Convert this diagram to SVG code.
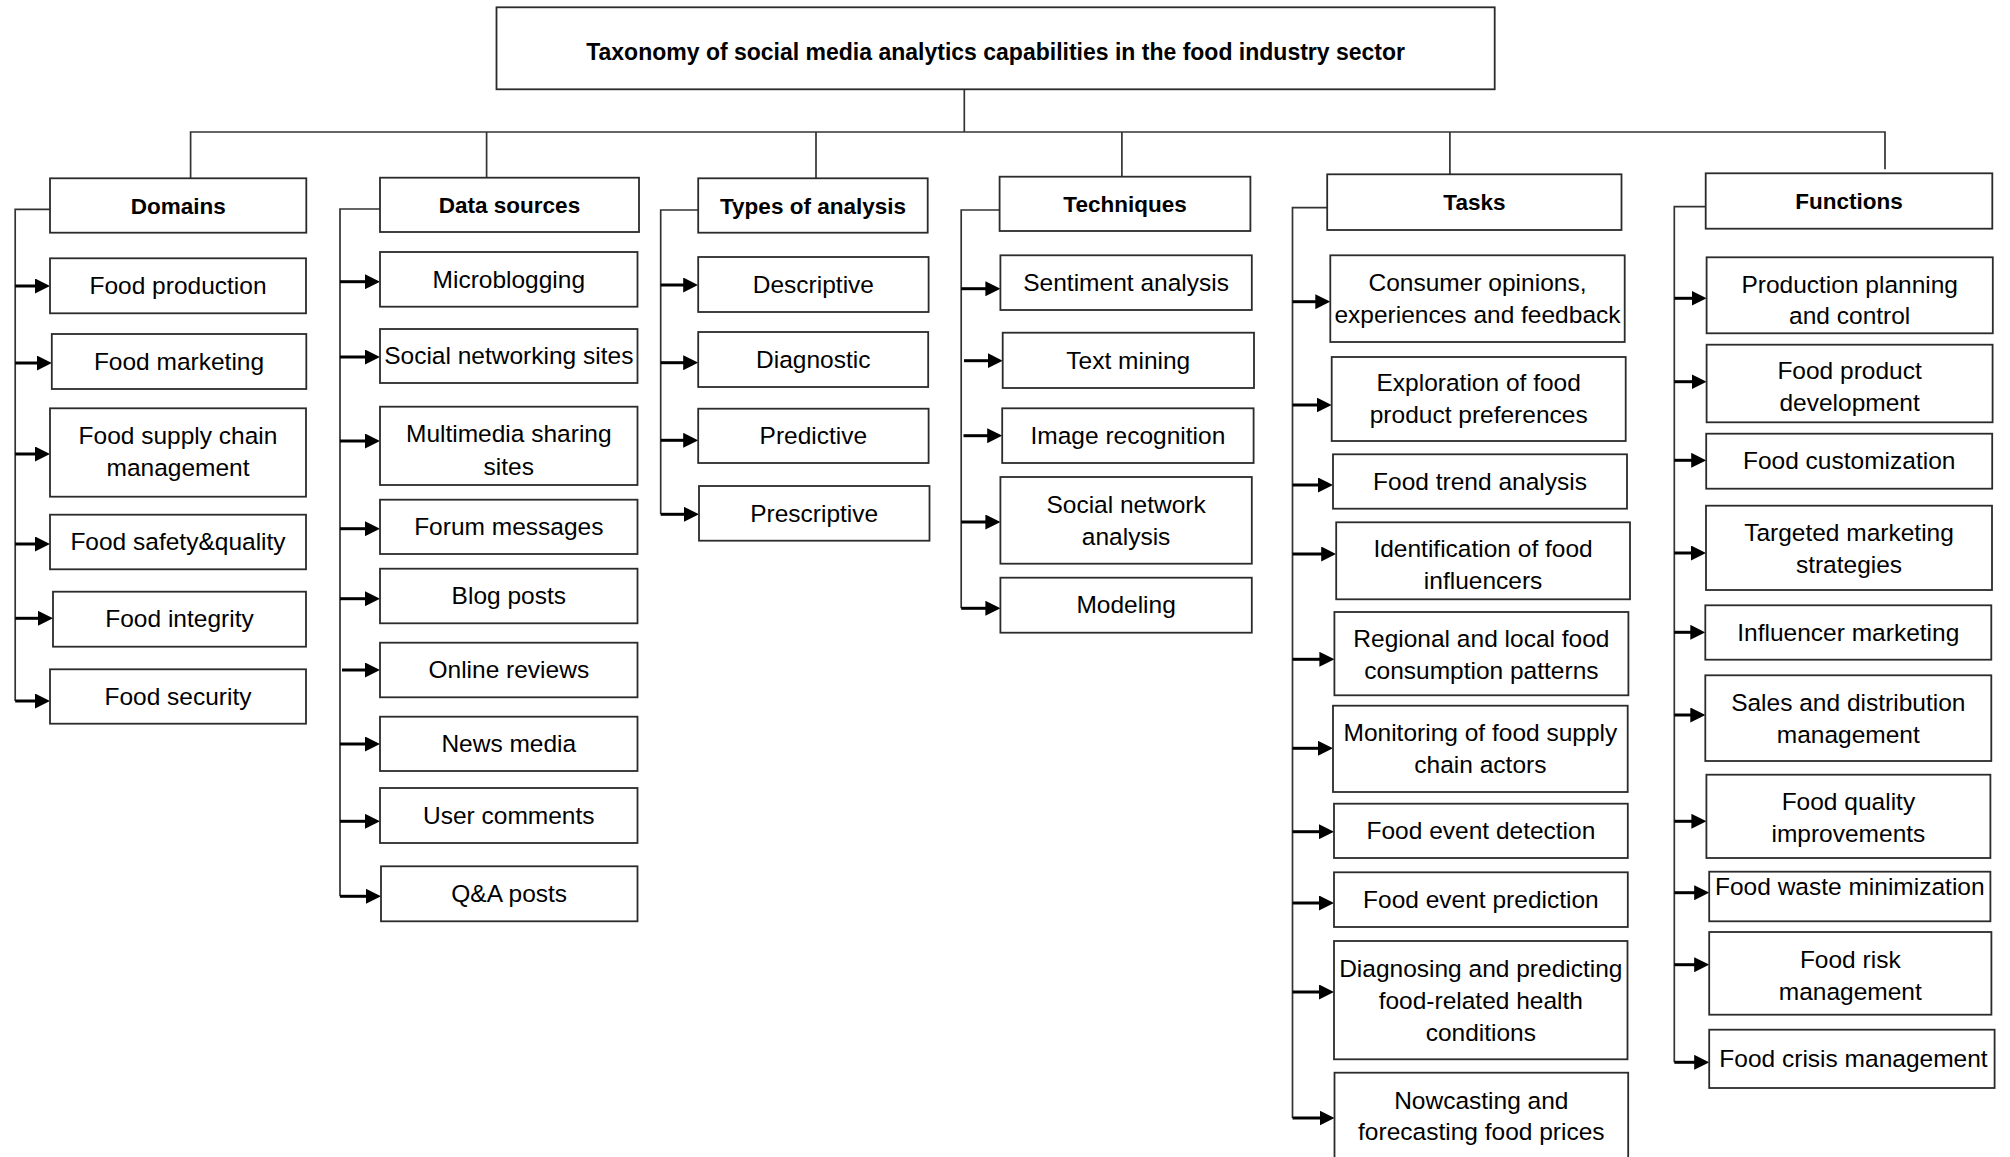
<svg xmlns="http://www.w3.org/2000/svg" width="2010" height="1157" viewBox="0 0 2010 1157">
<style>
.box{fill:#fff;stroke:#2b2b2b;stroke-width:1.8}
.t{font-family:"Liberation Sans",Arial,sans-serif;font-size:24.5px;text-anchor:middle;fill:#000}
.h{font-weight:bold;font-size:22.5px}
.ttl{font-weight:bold;font-size:23px}
.ln{stroke:#333;stroke-width:1.7;fill:none}
.ar{stroke:#000;stroke-width:3;fill:none;marker-end:url(#ah)}
</style>
<defs>
<marker id="ah" viewBox="0 0 15 15" markerWidth="15" markerHeight="15" refX="3" refY="7.5" markerUnits="userSpaceOnUse" orient="auto">
<path d="M0,0 L15,7.5 L0,15 z" fill="#000"/>
</marker>
</defs>
<rect x="0" y="0" width="2010" height="1157" fill="#fff"/>

<g id="connectors">
<path class="ln" d="M964.3,89.3 V132"/>
<path class="ln" d="M190.6,178.3 V132 H1885 V169.3"/>
<path class="ln" d="M486.6,132 V177.7"/>
<path class="ln" d="M816,132 V178.3"/>
<path class="ln" d="M1121.9,132 V176.7"/>
<path class="ln" d="M1449.9,132 V174.3"/>
<path class="ln" d="M50,209.3 H15.2 V701"/>
<path class="ln" d="M380,209 H340 V896.3"/>
<path class="ln" d="M698.2,210 H660.7 V514.3"/>
<path class="ln" d="M999.6,210 H961.2 V608.3"/>
<path class="ln" d="M1327.2,207.7 H1292.5 V1118"/>
<path class="ln" d="M1705.7,206.7 H1674.3 V1062.3"/>
<!-- domains arrows -->
<path class="ar" d="M15.2,286 H38"/>
<path class="ar" d="M15.2,363 H39.8"/>
<path class="ar" d="M15.2,454 H38"/>
<path class="ar" d="M15.2,544 H38"/>
<path class="ar" d="M15.2,618.3 H41"/>
<path class="ar" d="M15.2,701 H38"/>
<!-- data sources arrows -->
<path class="ar" d="M340,281.7 H368"/>
<path class="ar" d="M340,357 H368"/>
<path class="ar" d="M340,441 H368"/>
<path class="ar" d="M340,528.7 H368"/>
<path class="ar" d="M340,598.7 H368"/>
<path class="ar" d="M342,670 H368"/>
<path class="ar" d="M340,744 H368"/>
<path class="ar" d="M340,821.3 H368"/>
<path class="ar" d="M340,896.3 H369"/>
<!-- types arrows -->
<path class="ar" d="M660.7,285 H686.2"/>
<path class="ar" d="M660.7,362.7 H686.2"/>
<path class="ar" d="M660.7,440.3 H686.2"/>
<path class="ar" d="M660.7,514.3 H687"/>
<!-- techniques arrows -->
<path class="ar" d="M961.2,288.7 H988.4"/>
<path class="ar" d="M964,360.7 H990.7"/>
<path class="ar" d="M963.5,435.7 H990.2"/>
<path class="ar" d="M961.2,522 H988.4"/>
<path class="ar" d="M961.2,608.3 H988.4"/>
<!-- tasks arrows -->
<path class="ar" d="M1292.5,301.7 H1318.3"/>
<path class="ar" d="M1292.5,405 H1319.7"/>
<path class="ar" d="M1292.5,485 H1321"/>
<path class="ar" d="M1292.5,554 H1324.2"/>
<path class="ar" d="M1292.5,659.3 H1322.4"/>
<path class="ar" d="M1292.5,748.3 H1321"/>
<path class="ar" d="M1292.5,831.7 H1322"/>
<path class="ar" d="M1292.5,903 H1322"/>
<path class="ar" d="M1292.5,992 H1322"/>
<path class="ar" d="M1292.5,1118 H1322.5"/>
<!-- functions arrows -->
<path class="ar" d="M1674.3,298.3 H1694.6"/>
<path class="ar" d="M1674.3,381.7 H1694.6"/>
<path class="ar" d="M1674.3,460.3 H1694.2"/>
<path class="ar" d="M1674.3,553 H1694"/>
<path class="ar" d="M1674.3,632.3 H1693.3"/>
<path class="ar" d="M1674.3,715 H1693.3"/>
<path class="ar" d="M1674.3,821.3 H1694.4"/>
<path class="ar" d="M1674.3,892.7 H1697.2"/>
<path class="ar" d="M1674.3,964.7 H1697.2"/>
<path class="ar" d="M1674.3,1062.3 H1697.2"/>
</g>

<g id="title">
<rect class="box" x="496.5" y="7.3" width="998.2" height="82"/>
<text class="t ttl" x="995.6" y="59.5">Taxonomy of social media analytics capabilities in the food industry sector</text>
</g>

<!-- Domains -->
<g id="domains">
<rect class="box" x="50" y="178.3" width="256.3" height="54.4"/>
<text class="t h" x="178.2" y="213.5">Domains</text>
</g>
<g id="food-production">
<rect class="box" x="50" y="258.3" width="256" height="55"/>
<text class="t" x="178" y="294">Food production</text>
</g>
<g id="food-marketing">
<rect class="box" x="51.8" y="334" width="254.5" height="55"/>
<text class="t" x="179" y="369.7">Food marketing</text>
</g>
<g id="food-supply-chain-management">
<rect class="box" x="50" y="408.3" width="256" height="88.4"/>
<text class="t" x="178" y="443.8">Food supply chain<tspan x="178" y="475.8">management</tspan></text>
</g>
<g id="food-safety-quality">
<rect class="box" x="50" y="514.7" width="256" height="54.6"/>
<text class="t" x="178" y="550.2">Food safety&amp;quality</text>
</g>
<g id="food-integrity">
<rect class="box" x="53" y="591.7" width="253" height="55"/>
<text class="t" x="179.5" y="627.4">Food integrity</text>
</g>
<g id="food-security">
<rect class="box" x="50" y="669.3" width="256" height="54.4"/>
<text class="t" x="178" y="704.7">Food security</text>
</g>

<!-- Data sources -->
<g id="data-sources">
<rect class="box" x="380" y="177.7" width="259" height="54.3"/>
<text class="t h" x="509.5" y="213">Data sources</text>
</g>
<g id="microblogging">
<rect class="box" x="380" y="252" width="257.5" height="54.7"/>
<text class="t" x="508.8" y="287.5">Microblogging</text>
</g>
<g id="social-networking-sites">
<rect class="box" x="380" y="329" width="257.5" height="54"/>
<text class="t" x="508.8" y="364.2">Social networking sites</text>
</g>
<g id="multimedia-sharing-sites">
<rect class="box" x="380" y="406.7" width="257.5" height="78.3"/>
<text class="t" x="508.8" y="442">Multimedia sharing<tspan x="508.8" y="474.5">sites</tspan></text>
</g>
<g id="forum-messages">
<rect class="box" x="380" y="499.7" width="257.5" height="54.3"/>
<text class="t" x="508.8" y="535">Forum messages</text>
</g>
<g id="blog-posts">
<rect class="box" x="380" y="568.7" width="257.5" height="54.6"/>
<text class="t" x="508.8" y="604.2">Blog posts</text>
</g>
<g id="online-reviews">
<rect class="box" x="380" y="642.7" width="257.5" height="54.6"/>
<text class="t" x="508.8" y="678.2">Online reviews</text>
</g>
<g id="news-media">
<rect class="box" x="380" y="716.7" width="257.5" height="54.3"/>
<text class="t" x="508.8" y="752">News media</text>
</g>
<g id="user-comments">
<rect class="box" x="380" y="788" width="257.5" height="55"/>
<text class="t" x="508.8" y="823.7">User comments</text>
</g>
<g id="qa-posts">
<rect class="box" x="381" y="866.3" width="256.5" height="55"/>
<text class="t" x="509.2" y="902">Q&amp;A posts</text>
</g>

<!-- Types of analysis -->
<g id="types-of-analysis">
<rect class="box" x="698.2" y="178.3" width="229.5" height="54.4"/>
<text class="t h" x="813" y="213.5">Types of analysis</text>
</g>
<g id="descriptive">
<rect class="box" x="698.2" y="257" width="230.4" height="55"/>
<text class="t" x="813.4" y="292.7">Descriptive</text>
</g>
<g id="diagnostic">
<rect class="box" x="698.2" y="332" width="230" height="55"/>
<text class="t" x="813.2" y="367.7">Diagnostic</text>
</g>
<g id="predictive">
<rect class="box" x="698.2" y="408.7" width="230.4" height="54.3"/>
<text class="t" x="813.4" y="444">Predictive</text>
</g>
<g id="prescriptive">
<rect class="box" x="699" y="486" width="230.5" height="54.7"/>
<text class="t" x="814.2" y="521.5">Prescriptive</text>
</g>

<!-- Techniques -->
<g id="techniques">
<rect class="box" x="999.6" y="176.7" width="250.8" height="54.3"/>
<text class="t h" x="1125" y="212">Techniques</text>
</g>
<g id="sentiment-analysis">
<rect class="box" x="1000.4" y="255.3" width="251.4" height="54.7"/>
<text class="t" x="1126.1" y="290.8">Sentiment analysis</text>
</g>
<g id="text-mining">
<rect class="box" x="1002.7" y="332.7" width="251.3" height="55.3"/>
<text class="t" x="1128.3" y="368.5">Text mining</text>
</g>
<g id="image-recognition">
<rect class="box" x="1002.2" y="408.3" width="251.4" height="54.7"/>
<text class="t" x="1127.9" y="443.8">Image recognition</text>
</g>
<g id="social-network-analysis">
<rect class="box" x="1000.4" y="477" width="251.4" height="86.7"/>
<text class="t" x="1126.1" y="512.5">Social network<tspan x="1126.1" y="544.5">analysis</tspan></text>
</g>
<g id="modeling">
<rect class="box" x="1000.4" y="577.7" width="251.4" height="55"/>
<text class="t" x="1126.1" y="613.4">Modeling</text>
</g>

<!-- Tasks -->
<g id="tasks">
<rect class="box" x="1327.2" y="174.3" width="294.3" height="55.7"/>
<text class="t h" x="1474.4" y="210.4">Tasks</text>
</g>
<g id="consumer-opinions">
<rect class="box" x="1330.3" y="255.3" width="294.4" height="86.7"/>
<text class="t" x="1477.5" y="291">Consumer opinions,<tspan x="1477.5" y="323">experiences and feedback</tspan></text>
</g>
<g id="exploration-food-preferences">
<rect class="box" x="1331.7" y="357" width="294" height="84"/>
<text class="t" x="1478.7" y="391.3">Exploration of food<tspan x="1478.7" y="423.3">product preferences</tspan></text>
</g>
<g id="food-trend-analysis">
<rect class="box" x="1333" y="454.3" width="294" height="54.4"/>
<text class="t" x="1480" y="489.7">Food trend analysis</text>
</g>
<g id="identification-food-influencers">
<rect class="box" x="1336.2" y="522.3" width="293.8" height="77"/>
<text class="t" x="1483.1" y="557">Identification of food<tspan x="1483.1" y="589">influencers</tspan></text>
</g>
<g id="regional-local-consumption">
<rect class="box" x="1334.4" y="612" width="294" height="83.3"/>
<text class="t" x="1481.4" y="646.5">Regional and local food<tspan x="1481.4" y="678.5">consumption patterns</tspan></text>
</g>
<g id="monitoring-supply-chain">
<rect class="box" x="1333" y="705.7" width="294.7" height="86.3"/>
<text class="t" x="1480.4" y="741">Monitoring of food supply<tspan x="1480.4" y="773">chain actors</tspan></text>
</g>
<g id="food-event-detection">
<rect class="box" x="1334" y="803.7" width="293.8" height="54.3"/>
<text class="t" x="1480.9" y="839">Food event detection</text>
</g>
<g id="food-event-prediction">
<rect class="box" x="1334" y="872.3" width="293.8" height="54.7"/>
<text class="t" x="1480.9" y="907.8">Food event prediction</text>
</g>
<g id="diagnosing-health">
<rect class="box" x="1334" y="941" width="293.5" height="118.3"/>
<text class="t" x="1480.8" y="977">Diagnosing and predicting<tspan x="1480.8" y="1009">food-related health</tspan><tspan x="1480.8" y="1041">conditions</tspan></text>
</g>
<g id="nowcasting-prices">
<rect class="box" x="1334.5" y="1072.7" width="293.7" height="95"/>
<text class="t" x="1481.3" y="1108.5">Nowcasting and<tspan x="1481.3" y="1140">forecasting food prices</tspan></text>
</g>

<!-- Functions -->
<g id="functions">
<rect class="box" x="1705.7" y="173.3" width="286.6" height="55.4"/>
<text class="t h" x="1849" y="209.2">Functions</text>
</g>
<g id="production-planning">
<rect class="box" x="1706.6" y="257.3" width="286.2" height="76"/>
<text class="t" x="1849.7" y="292.5">Production planning<tspan x="1849.7" y="324">and control</tspan></text>
</g>
<g id="food-product-development">
<rect class="box" x="1706.6" y="344.7" width="286" height="77.6"/>
<text class="t" x="1849.6" y="378.5">Food product<tspan x="1849.6" y="410.5">development</tspan></text>
</g>
<g id="food-customization">
<rect class="box" x="1706.2" y="433.7" width="286" height="55"/>
<text class="t" x="1849.2" y="469.4">Food customization</text>
</g>
<g id="targeted-marketing">
<rect class="box" x="1706" y="505.7" width="286" height="84.3"/>
<text class="t" x="1849" y="541">Targeted marketing<tspan x="1849" y="573">strategies</tspan></text>
</g>
<g id="influencer-marketing">
<rect class="box" x="1705.3" y="605.3" width="286" height="54.4"/>
<text class="t" x="1848.3" y="640.7">Influencer marketing</text>
</g>
<g id="sales-distribution">
<rect class="box" x="1705.3" y="675.3" width="286" height="85.7"/>
<text class="t" x="1848.3" y="710.5">Sales and distribution<tspan x="1848.3" y="742.5">management</tspan></text>
</g>
<g id="food-quality-improvements">
<rect class="box" x="1706.4" y="774.7" width="284" height="83.3"/>
<text class="t" x="1848.4" y="809.5">Food quality<tspan x="1848.4" y="841.5">improvements</tspan></text>
</g>
<g id="food-waste-minimization">
<rect class="box" x="1709.2" y="871.7" width="281.2" height="49.6"/>
<text class="t" x="1849.8" y="895">Food waste minimization</text>
</g>
<g id="food-risk-management">
<rect class="box" x="1709.2" y="932" width="282.2" height="82.7"/>
<text class="t" x="1850.3" y="967.5">Food risk<tspan x="1850.3" y="999.5">management</tspan></text>
</g>
<g id="food-crisis-management">
<rect class="box" x="1709.2" y="1029.7" width="285.4" height="58.3"/>
<text class="t" x="1853.5" y="1067">Food crisis management</text>
</g>
</svg>
